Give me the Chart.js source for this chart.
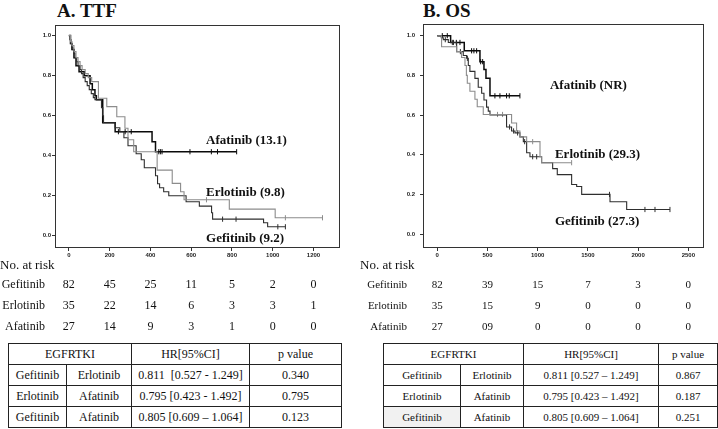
<!DOCTYPE html>
<html>
<head>
<meta charset="utf-8">
<script src="https://cdn.jsdelivr.net/npm/chart.js@4.4.0/dist/chart.umd.min.js"></script>
<style>
  body { margin: 0; background: #fff; }
  #page { position: relative; width: 718px; height: 429px; overflow: hidden;
          font-family: "Liberation Serif", "Times New Roman", serif; color: #111; }
  canvas { position: absolute; top: 0; }
  .title { position: absolute; top: 0; font-weight: bold; font-size: 19px; }
  .curve-label { position: absolute; font-weight: bold; font-size: 13px; white-space: nowrap;
                 transform: translateY(-50%); }
  .risk { position: absolute; white-space: nowrap; transform: translate(-50%, -50%); }
  .risk-name { position: absolute; white-space: nowrap; transform: translate(-100%, -50%); }
  .risk-head { position: absolute; font-size: 13px; white-space: nowrap; transform: translateY(-50%); }
  table { position: absolute; border-collapse: collapse; border: 1.6px solid #111; table-layout: fixed; }
  td { border: 1px solid #222; text-align: center; padding: 0; height: 20px; white-space: nowrap; }
</style>
</head>
<body>
<div id="page">
  <div class="title" style="left:57px">A. TTF</div>
  <div class="title" style="left:423px">B. OS</div>
  <canvas id="ttfChart" width="360" height="262" style="left:0"></canvas>
  <canvas id="osChart" width="358" height="262" style="left:360px"></canvas>
</div>
<script>
// tick labels
const ttfTicksX = [0, 200, 400, 600, 800, 1000, 1200];
const osTicksX = [0, 500, 1000, 1500, 2000, 2500];
const survTicksY = [0, 0.2, 0.4, 0.6, 0.8, 1.0];

// TTF step curves [days, survival after step]
const ttfGefitinib = [[0,1],[5,0.98],[10,0.96],[15,0.94],[20,0.93],[25,0.91],[30,0.89],[38,0.87],[45,0.85],[55,0.83],[62,0.81],[70,0.79],[80,0.77],[90,0.75],[100,0.73],[110,0.71],[120,0.69],[128,0.68],[160,0.64],[166,0.60],[170,0.565],[227,0.54],[250,0.52],[270,0.49],[290,0.45],[330,0.41],[355,0.38],[370,0.34],[425,0.30],[435,0.26],[445,0.24],[465,0.22],[490,0.20],[575,0.17],[640,0.148],[700,0.115],[705,0.083],[955,0.065],[975,0.045],[1062,0.045]];
const ttfErlotinib = [[0,1],[8,0.97],[15,0.95],[25,0.92],[35,0.89],[45,0.87],[55,0.85],[65,0.83],[80,0.81],[95,0.79],[112,0.77],[145,0.687],[186,0.645],[235,0.595],[275,0.537],[290,0.48],[318,0.42],[433,0.328],[507,0.262],[548,0.22],[565,0.18],[787,0.133],[1012,0.09],[1244,0.09]];
const ttfAfatinib = [[0,1],[8,0.96],[15,0.93],[25,0.89],[35,0.85],[50,0.82],[76,0.80],[104,0.76],[115,0.73],[128,0.70],[135,0.68],[166,0.565],[227,0.52],[408,0.47],[425,0.42],[823,0.42]];
const ttfCensGefitinib = [[754,0.083],[820,0.083],[1025,0.045],[1062,0.045]];
const ttfCensErlotinib = [[675,0.18],[1062,0.09],[1244,0.09]];
const ttfCensAfatinib = [[243,0.52],[276,0.52],[306,0.52],[441,0.42],[449,0.42],[457,0.42],[594,0.42],[699,0.42],[729,0.42],[823,0.42]];

// OS step curves
const osGefitinib = [[0,1],[40,0.99],[60,0.98],[110,0.966],[193,0.92],[259,0.90],[292,0.886],[309,0.85],[325,0.82],[375,0.785],[408,0.74],[442,0.71],[465,0.676],[491,0.64],[508,0.62],[525,0.60],[690,0.54],[740,0.52],[774,0.51],[823,0.49],[857,0.466],[890,0.41],[923,0.39],[1039,0.36],[1149,0.33],[1195,0.30],[1338,0.25],[1388,0.24],[1438,0.20],[1720,0.163],[1886,0.124],[2317,0.124]];
const osErlotinib = [[0,1],[43,0.944],[193,0.92],[242,0.89],[276,0.85],[290,0.80],[299,0.76],[325,0.72],[375,0.68],[398,0.642],[458,0.603],[740,0.56],[790,0.52],[823,0.49],[890,0.466],[1023,0.39],[1039,0.36],[1338,0.36]];
const osAfatinib = [[0,1],[133,0.966],[269,0.924],[425,0.869],[465,0.83],[485,0.785],[525,0.697],[823,0.697]];
const osCensGefitinib = [[80,0.98],[150,0.966],[230,0.92],[300,0.886],[720,0.54],[760,0.52],[800,0.51],[870,0.466],[950,0.39],[990,0.39],[1715,0.2],[2068,0.124],[2168,0.124],[2317,0.124]];
const osCensErlotinib = [[600,0.603],[650,0.603],[950,0.466],[1338,0.36]];
const osCensAfatinib = [[50,1],[100,1],[160,0.966],[190,0.966],[226,0.966],[342,0.924],[365,0.924],[392,0.924],[432,0.869],[452,0.869],[574,0.697],[624,0.697],[690,0.697],[717,0.697],[823,0.697]];

// numbers at risk
const riskNames = ["Gefitinib", "Erlotinib", "Afatinib"];
const ttfRiskGefitinib = [82, 45, 25, 11, 5, 2, 0];
const ttfRiskErlotinib = [35, 22, 14, 6, 3, 3, 1];
const ttfRiskAfatinib = [27, 14, 9, 3, 1, 0, 0];
const osRiskGefitinib = [82, 39, 15, 7, 3, 0];
const osRiskErlotinib = [35, 15, 9, 0, 0, 0];
const osRiskAfatinib = ["27", "09", "0", "0", "0", "0"];

// hazard ratio tables
const hrPairs = [["Gefitinib", "Erlotinib"], ["Erlotinib", "Afatinib"], ["Gefitinib", "Afatinib"]];
const ttfHR = ["0.811&nbsp;&nbsp;[0.527 - 1.249]", "0.795 [0.423 - 1.492]", "0.805 [0.609 \u2013 1.064]"];
const ttfP = ["0.340", "0.795", "0.123"];
const osHR = ["0.811 [0.527 \u2013 1.249]", "0.795 [0.423 \u2013 1.492]", "0.805 [0.609 \u2013 1.064]"];
const osP = ["0.867", "0.187", "0.251"];

const page = document.getElementById("page");

const frameBox = {
  id: "frameBox",
  afterDraw(chart) {
    const a = chart.chartArea;
    const c = chart.ctx;
    c.save();
    c.strokeStyle = "#333";
    c.lineWidth = 1;
    c.strokeRect(a.left + 0.5, a.top + 0.5, a.right - a.left, a.bottom - a.top);
    c.restore();
  }
};

const styles = {
  Gefitinib: { color: "#2e2e2e", width: 1.1 },
  Erlotinib: { color: "#8c8c8c", width: 1.1 },
  Afatinib: { color: "#0a0a0a", width: 1.5 }
};

function stepSet(name, data) {
  return {
    data: data.map(p => ({ x: p[0], y: p[1] })),
    showLine: true, stepped: true, pointRadius: 0,
    borderColor: styles[name].color, borderWidth: styles[name].width, fill: false
  };
}

function censorSet(name, data) {
  return {
    data: data.map(p => ({ x: p[0], y: p[1] })),
    showLine: false, pointStyle: "line", rotation: 90, pointRadius: 2.6,
    borderColor: styles[name].color, borderWidth: 1
  };
}

function makePanel(cfg) {
  const tickFont = { family: "Arial, 'Liberation Sans', sans-serif", size: 6, weight: "bold" };
  return new Chart(document.getElementById(cfg.canvas), {
    type: "scatter",
    data: {
      datasets: [
        stepSet("Erlotinib", cfg.erl), stepSet("Gefitinib", cfg.gef), stepSet("Afatinib", cfg.afa),
        censorSet("Erlotinib", cfg.cErl), censorSet("Gefitinib", cfg.cGef), censorSet("Afatinib", cfg.cAfa)
      ]
    },
    options: {
      responsive: false, animation: false,
      layout: { padding: { top: cfg.top, right: cfg.right, left: 0, bottom: 0 } },
      plugins: { legend: { display: false }, tooltip: { enabled: false } },
      scales: {
        x: {
          type: "linear", min: cfg.xMin, max: cfg.xMax,
          afterBuildTicks: s => { s.ticks = cfg.ticksX.map(v => ({ value: v })); },
          afterFit: s => { s.height = 15; },
          grid: { drawOnChartArea: false, drawTicks: true, tickLength: 4, color: "#333" },
          border: { display: true, color: "#333" },
          ticks: { font: tickFont, color: "#222", padding: 1, maxRotation: 0, autoSkip: false,
                   callback: v => String(v) }
        },
        y: {
          min: cfg.yMin, max: cfg.yMax,
          afterBuildTicks: s => { s.ticks = survTicksY.map(v => ({ value: v })); },
          afterFit: s => { s.width = cfg.yWidth; },
          grid: { drawOnChartArea: false, drawTicks: true, tickLength: 3, color: "#333" },
          border: { display: true, color: "#333" },
          ticks: { font: tickFont, color: "#222", padding: cfg.yPad, callback: v => v.toFixed(1) }
        }
      }
    },
    plugins: [frameBox]
  });
}

function addDiv(cls, text, left, top, style) {
  const d = document.createElement("div");
  d.className = cls;
  d.textContent = text;
  d.style.left = left + "px";
  d.style.top = top + "px";
  if (style) Object.assign(d.style, style);
  page.appendChild(d);
  return d;
}

function addLabels(chart, offsetX, labels) {
  labels.forEach(l => {
    const px = chart.scales.x.getPixelForValue(l[1]) + offsetX;
    const py = chart.scales.y.getPixelForValue(l[2]);
    addDiv("curve-label", l[0], px, py);
  });
}

function addRisk(chart, offsetX, ticks, rows, nameRight, fontSize) {
  addDiv("risk-head", "No. at risk", offsetX, 265);
  const rowY = [284, 305, 326];
  rows.forEach((vals, r) => {
    addDiv("risk-name", riskNames[r], nameRight, rowY[r], { fontSize: fontSize + "px" });
    vals.forEach((v, i) => {
      const px = chart.scales.x.getPixelForValue(ticks[i]) + offsetX;
      addDiv("risk", String(v), px, rowY[r], { fontSize: fontSize + "px" });
    });
  });
}

function addTable(left, widths, hr, p, fontSize, shadeLast) {
  const t = document.createElement("table");
  t.style.left = left + "px";
  t.style.top = "343px";
  t.style.fontSize = fontSize + "px";
  t.style.width = widths.reduce((a, b) => a + b, 0) + "px";
  let html = "<colgroup>" + widths.map(w => `<col style="width:${w}px">`).join("") + "</colgroup>";
  html += `<tr><td colspan="2">EGFRTKI</td><td>HR[95%CI]</td><td>p value</td></tr>`;
  hrPairs.forEach((pair, i) => {
    const shade = shadeLast && i === hrPairs.length - 1 ? ' style="background:#f1f1f1"' : "";
    html += `<tr><td${shade}>${pair[0]}</td><td>${pair[1]}</td><td>${hr[i]}</td><td>${p[i]}</td></tr>`;
  });
  t.innerHTML = html;
  page.appendChild(t);
}

const ttfChart = makePanel({
  canvas: "ttfChart", gef: ttfGefitinib, erl: ttfErlotinib, afa: ttfAfatinib,
  cGef: ttfCensGefitinib, cErl: ttfCensErlotinib, cAfa: ttfCensAfatinib,
  ticksX: ttfTicksX, xMin: -68, xMax: 1325, yMin: -0.056, yMax: 1.053,
  top: 25, right: 21, yWidth: 55, yPad: 1
});

const osChart = makePanel({
  canvas: "osChart", gef: osGefitinib, erl: osErlotinib, afa: osAfatinib,
  cGef: osCensGefitinib, cErl: osCensErlotinib, cAfa: osCensAfatinib,
  ticksX: osTicksX, xMin: -142, xMax: 2646, yMin: -0.065, yMax: 1.059,
  top: 24, right: 15, yWidth: 63, yPad: 5
});

addLabels(ttfChart, 0, [["Afatinib (13.1)", 673, 0.478], ["Erlotinib (9.8)", 673, 0.218], ["Gefitinib (9.2)", 673, -0.012]]);
addLabels(osChart, 360, [["Afatinib (NR)", 1122, 0.751], ["Erlotinib (29.3)", 1172, 0.403], ["Gefitinib (27.3)", 1172, 0.066]]);

addRisk(ttfChart, 0, ttfTicksX, [ttfRiskGefitinib, ttfRiskErlotinib, ttfRiskAfatinib], 45, 12);
addRisk(osChart, 360, osTicksX, [osRiskGefitinib, osRiskErlotinib, osRiskAfatinib], 407, 11);

addTable(8, [58, 65, 118, 92], ttfHR, ttfP, 12, false);
addTable(383, [77, 63, 135, 59], osHR, osP, 11, true);
</script>
</body>
</html>
